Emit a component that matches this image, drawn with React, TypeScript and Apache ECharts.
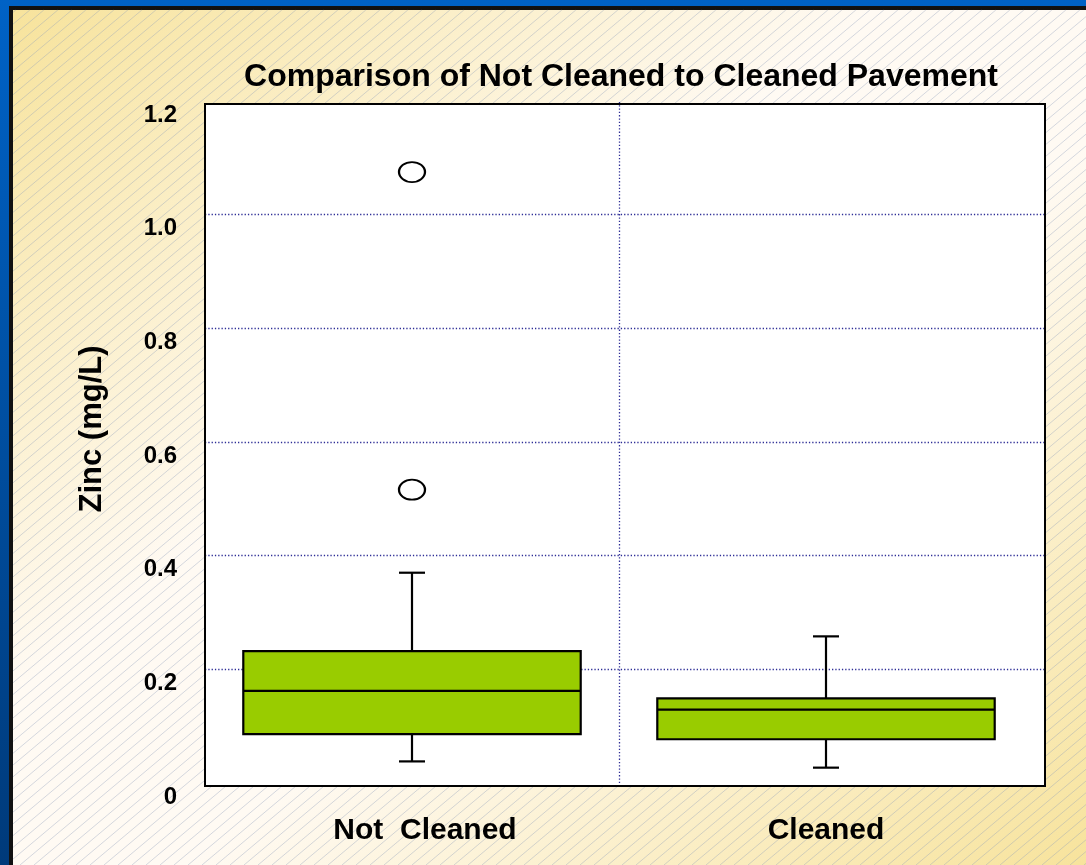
import React, { useEffect, useRef } from 'react';
import * as echarts from 'echarts';

const chartTitle = 'Comparison of Not Cleaned to Cleaned Pavement';
const yAxisTitle = 'Zinc (mg/L)';
const categories = ['Not  Cleaned', 'Cleaned'];
const whiskerLow = [0.038, 0.027];
const quartile1 = [0.086, 0.077];
const medians = [0.162, 0.129];
const quartile3 = [0.232, 0.149];
const whiskerHigh = [0.37, 0.258];
const outlierGroup = [0, 0];
const outlierValues = [1.075, 0.516];
const yMin = 0;
const yMax = 1.2;
const yStep = 0.2;

const FONT = 'Arial, "Liberation Sans", Helvetica, sans-serif';
const W = 1086;
const H = 865;
const GRID = { left: 205, top: 101, width: 840, height: 682 };
const FRAME = { x: 205, y: 104, width: 840, height: 682 };
const BAND_PX = 414;
const X_MAX = GRID.width / BAND_PX;
const NAVY = '#2e2e96';

function hatchLines(): any[] {
  const els: any[] = [];
  const m = 0.84;
  const left = 13;
  const top = 10;
  for (let x0 = -1100; x0 < W; x0 += 14) {
    const xs = Math.max(x0, left);
    const xe = Math.min(x0 + (H - top) / m, W);
    if (xe <= xs) continue;
    els.push({
      type: 'line',
      silent: true,
      z: -9,
      shape: { x1: xs, y1: H - m * (xs - x0), x2: xe, y2: H - m * (xe - x0) },
      style: { stroke: '#8e9eba', lineWidth: 0.7, opacity: 0.55 },
    });
  }
  return els;
}

export default function App() {
  const ref = useRef<HTMLDivElement>(null);

  useEffect(() => {
    if (!ref.current) return;
    const chart = echarts.init(ref.current, null, { renderer: 'svg' });

    const boxData = categories.map((_, i) => [
      i + 0.5,
      whiskerLow[i],
      quartile1[i],
      medians[i],
      quartile3[i],
      whiskerHigh[i],
    ]);
    const outlierData = outlierValues.map((v, i) => [outlierGroup[i] + 0.5, v]);

    const option: any = {
      animation: false,
      backgroundColor: 'transparent',
      graphic: [
        {
          type: 'rect',
          silent: true,
          z: -12,
          shape: { x: 0, y: 0, width: W, height: H },
          style: {
            fill: {
              type: 'linear', x: 0, y: 0, x2: 0, y2: 1,
              colorStops: [
                { offset: 0, color: '#0062c6' },
                { offset: 1, color: '#003a7a' },
              ],
            },
          },
        },
        {
          type: 'rect',
          silent: true,
          z: -11,
          shape: { x: 9, y: 6, width: W - 9, height: H - 6 },
          style: { fill: '#111' },
        },
        {
          type: 'rect',
          silent: true,
          z: -10,
          shape: { x: 13, y: 10, width: W - 13, height: H - 10 },
          style: {
            fill: {
              type: 'linear', x: 0, y: 0, x2: 1, y2: 1,
              colorStops: [
                { offset: 0, color: '#f7e39c' },
                { offset: 0.4, color: '#fffaf3' },
                { offset: 0.58, color: '#fffaf3' },
                { offset: 1, color: '#f7e39c' },
              ],
            },
          },
        },
        ...hatchLines(),
        {
          type: 'rect',
          silent: true,
          z: -8,
          shape: { ...FRAME },
          style: { fill: '#ffffff' },
        },
        {
          type: 'rect',
          silent: true,
          z: 10,
          shape: { ...FRAME },
          style: { fill: 'none', stroke: '#000', lineWidth: 2 },
        },
      ],
      title: {
        text: chartTitle,
        left: 616,
        top: 54,
        textAlign: 'center',
        textStyle: { fontFamily: FONT, fontSize: 32, fontWeight: 'bold', color: '#000' },
      },
      grid: { ...GRID, show: false, containLabel: false },
      xAxis: {
        type: 'value',
        min: 0,
        max: X_MAX,
        interval: 0.5,
        axisLine: { show: false },
        axisTick: { show: false },
        splitLine: { show: false },
        axisLabel: {
          margin: 30,
          showMinLabel: true,
          showMaxLabel: true,
          formatter: (v: number) => {
            const i = v - 0.5;
            if (Math.abs(i - Math.round(i)) < 1e-6 && categories[Math.round(i)]) {
              return '{c' + Math.round(i) + '|' + categories[Math.round(i)] + '}';
            }
            return '';
          },
          rich: {
            c0: { fontFamily: FONT, fontSize: 30, fontWeight: 'bold', color: '#000', padding: [0, 0, 0, 26] },
            c1: { fontFamily: FONT, fontSize: 30, fontWeight: 'bold', color: '#000' },
          },
        },
      },
      yAxis: {
        type: 'value',
        min: yMin,
        max: yMax,
        interval: yStep,
        name: yAxisTitle,
        nameLocation: 'middle',
        nameRotate: 90,
        nameGap: 99,
        nameTextStyle: {
          fontFamily: FONT, fontSize: 31, fontWeight: 'bold', color: '#000',
          padding: [0, 0, 0, 26],
        },
        axisLine: { show: false },
        axisTick: { show: false },
        splitLine: {
          show: true,
          showMinLine: false,
          showMaxLine: false,
          lineStyle: { color: NAVY, width: 1.3, type: [1.3, 2] },
        },
        axisLabel: {
          margin: 28,
          fontFamily: FONT,
          fontSize: 24,
          fontWeight: 'bold',
          color: '#000',
          verticalAlign: 'top',
          formatter: (v: number) => (v === 0 ? '0' : v.toFixed(1)),
        },
      },
      series: [
        {
          type: 'custom',
          name: 'Zinc',
          data: boxData,
          dimensions: ['x', 'low', 'q1', 'median', 'q3', 'high'],
          encode: { x: 0, y: [1, 2, 3, 4, 5] },
          z: 3,
          renderItem: (params: any, api: any) => {
            const x = api.value(0);
            const lo = api.coord([x, api.value(1)]);
            const b1 = api.coord([x, api.value(2)]);
            const md = api.coord([x, api.value(3)]);
            const b3 = api.coord([x, api.value(4)]);
            const hi = api.coord([x, api.value(5)]);
            const band = api.size([1, 0])[0];
            const bw = band * 0.815;
            const cap = 13;
            const cx = lo[0];
            const stroke = { stroke: '#000', lineWidth: 2.2 };
            return {
              type: 'group',
              children: [
                { type: 'line', shape: { x1: cx, y1: hi[1], x2: cx, y2: b3[1] }, style: stroke },
                { type: 'line', shape: { x1: cx, y1: b1[1], x2: cx, y2: lo[1] }, style: stroke },
                { type: 'line', shape: { x1: cx - cap, y1: hi[1], x2: cx + cap, y2: hi[1] }, style: stroke },
                { type: 'line', shape: { x1: cx - cap, y1: lo[1], x2: cx + cap, y2: lo[1] }, style: stroke },
                {
                  type: 'rect',
                  shape: { x: cx - bw / 2, y: b3[1], width: bw, height: b1[1] - b3[1] },
                  style: { fill: '#99cc00', stroke: '#000', lineWidth: 2.2 },
                },
                { type: 'line', shape: { x1: cx - bw / 2, y1: md[1], x2: cx + bw / 2, y2: md[1] }, style: stroke },
              ],
            };
          },
          markLine: {
            silent: true,
            symbol: ['none', 'none'],
            label: { show: false },
            lineStyle: { color: NAVY, width: 1.3, type: [1.3, 2] },
            data: [{ xAxis: 1 }],
          },
        },
        {
          type: 'scatter',
          name: 'Outliers',
          data: outlierData,
          symbol: 'path://M50,0A50,50,0,1,1,50,100A50,50,0,1,1,50,0Z',
          symbolSize: [26, 20],
          z: 4,
          itemStyle: { color: '#ffffff', borderColor: '#000', borderWidth: 2, opacity: 1 },
        },
      ],
    };

    chart.setOption(option);
    return () => chart.dispose();
  }, []);

  return (
    <div
      ref={ref}
      style={{ position: 'fixed', left: 0, top: 0, width: W, height: H }}
    />
  );
}
